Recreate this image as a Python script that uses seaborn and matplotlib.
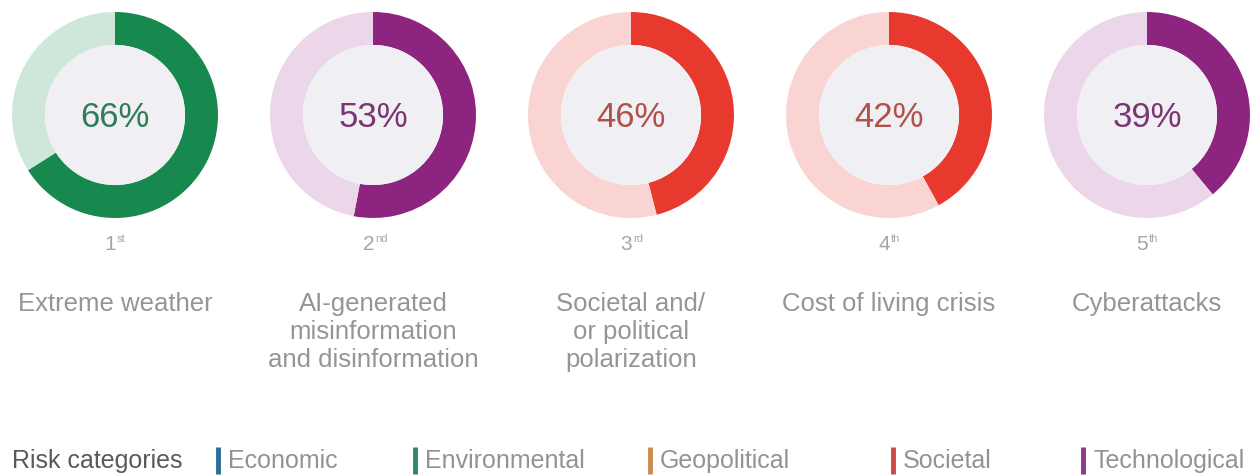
import matplotlib
matplotlib.use("Agg")
import matplotlib.pyplot as plt
from matplotlib.patches import Circle
import seaborn as sns

# Top 5 global risks, share of respondents
risks = ["Extreme weather",
         "AI-generated\nmisinformation\nand disinformation",
         "Societal and/\nor political\npolarization",
         "Cost of living crisis",
         "Cyberattacks"]
shares = [66, 53, 46, 42, 39]
rank_nums = ["1", "2", "3", "4", "5"]
rank_suffix = ["st", "nd", "rd", "th", "th"]
risk_cats = ["Environmental", "Technological", "Societal", "Societal", "Technological"]

legend_cats = ["Economic", "Environmental", "Geopolitical", "Societal", "Technological"]

# category colours: (dark ring, light ring, label text)
cat_colors = {
    "Economic": ("#1f6f9f", "#d3e4ef", "#1f6f9f"),
    "Environmental": ("#17894f", "#cfe7da", "#2e7d58"),
    "Geopolitical": ("#d08a4f", "#f5e3d3", "#b0703c"),
    "Societal": ("#e8392f", "#f9d4d3", "#b3504a"),
    "Technological": ("#8c2480", "#ecd6e9", "#7a3572"),
}
legend_bar_colors = {
    "Economic": "#2a6f97",
    "Environmental": "#2c8a62",
    "Geopolitical": "#cf8a50",
    "Societal": "#cf4a44",
    "Technological": "#8a3a86",
}

sns.set_theme(style="white")
plt.rcParams["font.family"] = ["Liberation Sans", "DejaVu Sans"]

W, H = 1251, 476
fig = plt.figure(figsize=(W / 100, H / 100), dpi=100)
fig.patch.set_facecolor("white")

# background axes in pixel coordinates for text and legend
base = fig.add_axes([0, 0, 1, 1])
base.set_xlim(0, W)
base.set_ylim(H, 0)
base.axis("off")

x0, dx, cy, r = 115, 258, 115, 103
inner = 0.68

for i, (risk, share, cat) in enumerate(zip(risks, shares, risk_cats)):
    cx = x0 + i * dx
    dark, light, txt = cat_colors[cat]
    ax = fig.add_axes([(cx - r) / W, 1 - (cy + r) / H, 2 * r / W, 2 * r / H])
    ax.pie([share, 100 - share], colors=[dark, light], startangle=90,
           counterclock=False, radius=1,
           wedgeprops=dict(width=1 - inner, edgecolor="none"))
    ax.add_patch(Circle((0, 0), inner, facecolor="#f0eff3", edgecolor="none"))
    ax.text(0, -0.02, f"{share}%", ha="center", va="center", fontsize=25, color=txt)
    ax.set_xlim(-1, 1)
    ax.set_ylim(-1, 1)
    ax.set_aspect("equal")
    ax.axis("off")

    # rank
    base.text(cx + 1, 244, rank_nums[i], ha="right", va="center",
              fontsize=15, color="#a5a5a5")
    base.text(cx + 2, 239, rank_suffix[i], ha="left", va="center",
              fontsize=8, color="#a5a5a5")
    # risk name
    base.text(cx, 292, risk, ha="center", va="top", fontsize=18.5,
              color="#959595", linespacing=1.22)

# legend row
base.text(12, 461, "Risk categories", ha="left", va="center",
          fontsize=18, color="#5a5a5a")
bar_x = [218, 415, 650, 893, 1083]
for bx, cat in zip(bar_x, legend_cats):
    base.plot([bx, bx], [447, 474], color=legend_bar_colors[cat], lw=3.5,
              solid_capstyle="butt")
    base.text(bx + 10, 461, cat, ha="left", va="center", fontsize=18,
              color="#939393")

fig.savefig("out.png", dpi=100, facecolor="white")
